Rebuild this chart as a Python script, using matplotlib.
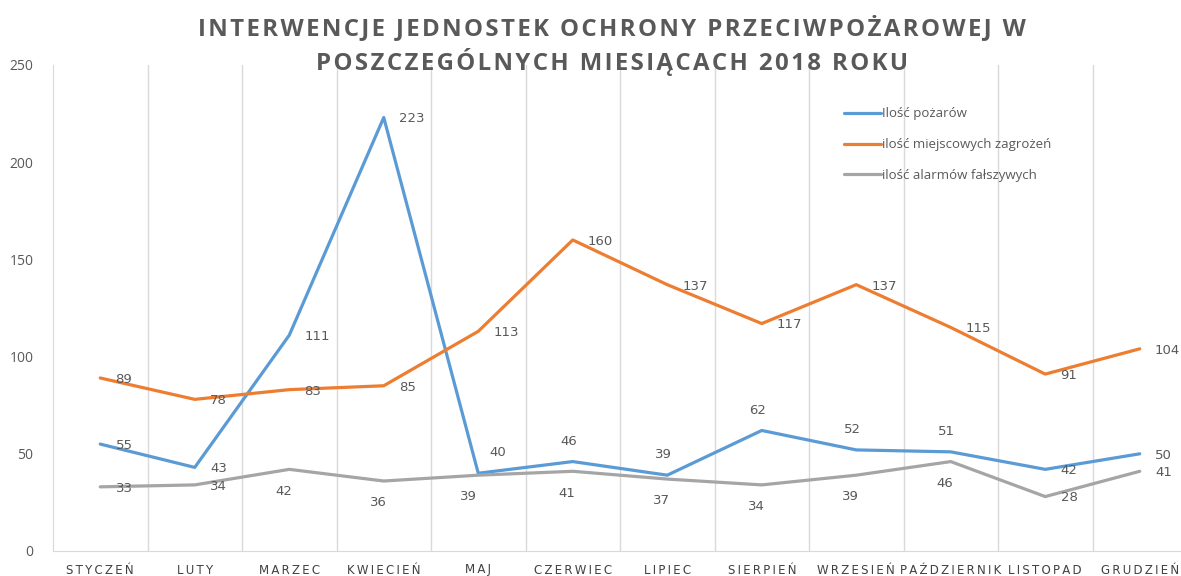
import numpy as np
import matplotlib.pyplot as plt

# dane
miesiace = ['STYCZEŃ', 'LUTY', 'MARZEC', 'KWIECIEŃ', 'MAJ', 'CZERWIEC', 'LIPIEC',
            'SIERPIEŃ', 'WRZESIEŃ', 'PAŹDZIERNIK', 'LISTOPAD', 'GRUDZIEŃ']
pozary = [55, 43, 111, 223, 40, 46, 39, 62, 52, 51, 42, 50]
zagrozenia = [89, 78, 83, 85, 113, 160, 137, 117, 137, 115, 91, 104]
alarmy = [33, 34, 42, 36, 39, 41, 37, 34, 39, 46, 28, 41]

# gdzie stoja etykiety danych: r = z prawej, a = nad, ar = nad z prawej, b = pod
poz_pozary = ['r', 'r', 'r', 'r', 'ar', 'a', 'a', 'a', 'a', 'a', 'r', 'r']
poz_zagrozenia = ['r'] * 12
poz_alarmy = ['r', 'r', 'b', 'b', 'bl', 'b', 'b', 'b', 'b', 'b', 'r', 'r']

SZARY = '#595959'
plt.rcParams['font.family'] = ['Open Sans', 'DejaVu Sans']

fig = plt.figure(figsize=(11.81, 5.76), dpi=100)
ax = fig.add_axes([53 / 1181, 1 - 551 / 576, 1134 / 1181, 486 / 576])

x = np.arange(len(miesiace))
serie = [
    (pozary, '#5B9BD5', 'Ilość pożarów', poz_pozary),
    (zagrozenia, '#ED7D31', 'ilość miejscowych zagrożeń', poz_zagrozenia),
    (alarmy, '#A5A5A5', 'ilość alarmów fałszywych', poz_alarmy),
]

offsety = {'r': ((11, -1), 'left', 'center'),
           'a': ((-3, 10), 'center', 'bottom'),
           'ar': ((14, 10), 'center', 'bottom'),
           'b': ((-4, -11), 'center', 'top'),
           'bl': ((-7, -11), 'center', 'top')}

for wartosci, kolor, nazwa, pozycje in serie:
    ax.plot(x, wartosci, color=kolor, lw=2.3, label=nazwa, solid_capstyle='round')
    for xi, v, p in zip(x, wartosci, pozycje):
        off, ha, va = offsety[p]
        ax.annotate(str(v), (xi, v), xytext=off, textcoords='offset points',
                    ha=ha, va=va, fontsize=9.5, color=SZARY, family='DejaVu Sans')

ax.set_xlim(-0.5, len(miesiace) - 0.5)
ax.set_ylim(0, 250)
ax.set_yticks(np.arange(0, 251, 50))

# pionowe linie miedzy miesiacami
for g in np.arange(0.5, len(miesiace) - 0.5, 1):
    ax.axvline(g, color='#D9D9D9', lw=1, zorder=0)

for s in ['top', 'right']:
    ax.spines[s].set_visible(False)
ax.spines['left'].set_color('#D9D9D9')
ax.spines['bottom'].set_color('#D9D9D9')

ax.set_xticks(x)
ax.set_xticklabels(['\u200a\u200a'.join(m) for m in miesiace], fontsize=8.5, color='#404040',
                   family='DejaVu Sans')
ax.tick_params(axis='both', length=0)
ax.tick_params(axis='x', pad=9)
ax.tick_params(axis='y', pad=14, labelsize=10, labelcolor=SZARY)

tytul1 = 'INTERWENCJE JEDNOSTEK OCHRONY PRZECIWPOŻAROWEJ W'
tytul2 = 'POSZCZEGÓLNYCH MIESIĄCACH 2018 ROKU'
fig.text(612 / 1181, 1 - 28 / 576, '\u200a'.join(tytul1),
         ha='center', va='center', fontsize=17.3, fontweight='bold', color=SZARY)
fig.text(612 / 1181, 1 - 62 / 576, '\u200a'.join(tytul2),
         ha='center', va='center', fontsize=17.3, fontweight='bold', color=SZARY)

leg = ax.legend(loc='upper left', bbox_to_anchor=(0.687, 0.937), frameon=False,
                fontsize=9.5, handlelength=2.8, handletextpad=0.1, labelspacing=1.35)
for t in leg.get_texts():
    t.set_color(SZARY)

fig.savefig('out.png', dpi=100)
